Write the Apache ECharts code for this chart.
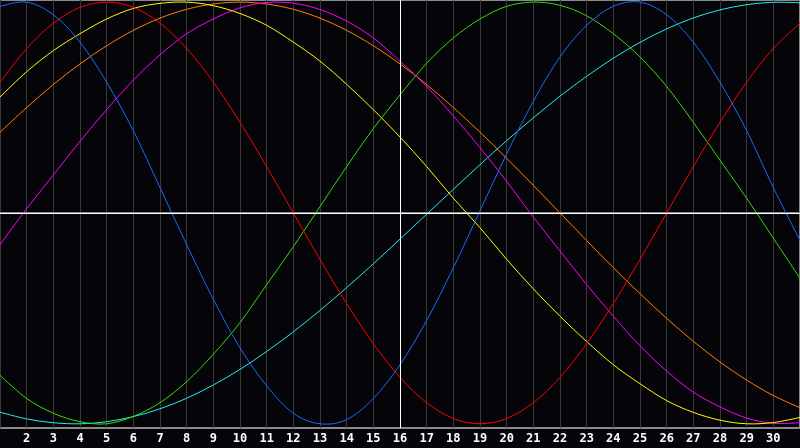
<!DOCTYPE html>
<html>
<head>
<meta charset="utf-8">
<script src="https://cdn.jsdelivr.net/npm/echarts@6/dist/echarts.min.js"></script>
<style>
html, body { margin: 0; padding: 0; background: #050408; }
#chart { width: 800px; height: 448px; }
</style>
</head>
<body>
<div id="chart"></div>
<script>
var days = [1, 2, 3, 4, 5, 6, 7, 8, 9, 10, 11, 12, 13, 14, 15, 16,
    17, 18, 19, 20, 21, 22, 23, 24, 25, 26, 27, 28, 29, 30, 31]

var physical = [98, 100, 94, 81, 62, 39, 12, -15, -41, -64, -82, -95, -100, -98, -88, -72,
    -51, -26, 1, 28, 53, 74, 89, 98, 100, 94, 81, 62, 39, 12, -13]
var emotional = [62, 78, 90, 97.5, 100, 97.5, 90, 78, 62, 43, 22, 0, -22, -43, -62, -78,
    -90, -97.5, -100, -97.5, -90, -78, -62, -43, -22, 0, 22, 43, 62, 78, 90]
var intellectual = [-77, -88, -95, -99, -100, -96.5, -90, -80, -67, -52, -34, -16, 3, 22, 40, 56,
    71, 83, 92, 98, 100, 98.5, 93.5, 85, 74, 60, 43, 25, 7, -12, -31]
var aesthetic = [55, 67, 77, 85, 92, 97, 99.4, 100, 98.3, 94.6, 89, 81, 72, 61, 49, 36,
    22, 7, -7, -22, -36, -49, -61, -72, -81, -89, -94.6, -98.3, -100, -99.4, -97]
var awareness = [38.3, 50, 60.9, 70.7, 79.3, 86.6, 92.4, 96.6, 99.1, 100, 99.1, 96.6, 92.4, 86.6, 79.3, 70.7,
    60.9, 50, 38.3, 25.9, 13.1, 0, -13.1, -25.9, -38.3, -50, -60.9, -70.7, -79.3, -86.6, -92.4]
var intuitive = [-15, 2, 18, 34, 49, 63, 75, 85, 92, 97.3, 99.8, 99.5, 96.5, 91, 83, 72,
    60, 46, 31, 15, -2, -18, -34, -49, -63, -75, -85, -92, -97.3, -99.8, -99.5]
var spiritual = [-94.5, -97.7, -99.5, -100, -99, -96.6, -92.9, -87.9, -81.6, -74.2, -65.7, -56.4, -46.2, -35.4, -24.1, -12.4,
    -0.6, 11.2, 22.9, 34.3, 45.1, 55.4, 64.8, 73.4, 80.9, 87.3, 92.5, 96.3, 98.8, 99.9, 99.7]

var todayMark = 16

function pairs(values) {
    return days.map(function (d, i) { return [d, values[i]] })
}

// one bezier segment per day, control points from the neighbours (catmull-rom)
function curve(name, values, color) {
    var last = values.length - 1
    return {
        name: name,
        type: 'custom',
        data: pairs(values),
        encode: { x: 0, y: 1 },
        silent: true,
        clip: true,
        z: 3,
        renderItem: function (params, api) {
            var i = params.dataIndex
            if (i >= last) return null
            var p0 = api.coord([days[Math.max(i - 1, 0)], values[Math.max(i - 1, 0)]])
            var p1 = api.coord([days[i], values[i]])
            var p2 = api.coord([days[i + 1], values[i + 1]])
            var p3 = api.coord([days[Math.min(i + 2, last)], values[Math.min(i + 2, last)]])
            return {
                type: 'bezierCurve',
                shape: {
                    x1: p1[0], y1: p1[1],
                    x2: p2[0], y2: p2[1],
                    cpx1: p1[0] + (p2[0] - p0[0]) / 6,
                    cpy1: p1[1] + (p2[1] - p0[1]) / 6,
                    cpx2: p2[0] - (p3[0] - p1[0]) / 6,
                    cpy2: p2[1] - (p3[1] - p1[1]) / 6
                },
                style: { stroke: color, fill: null, lineWidth: 1 }
            }
        }
    }
}

var series = [
    curve('spiritual', spiritual, '#22eeee'),
    curve('awareness', awareness, '#ff8000'),
    curve('intuitive', intuitive, '#ff00ff'),
    curve('aesthetic', aesthetic, '#ffff00'),
    curve('intellectual', intellectual, '#33dd00'),
    curve('emotional', emotional, '#ff0000'),
    curve('physical', physical, '#1a6cff')
]

// crosshair: today and the zero line
series.push({
    name: 'axes',
    type: 'line',
    data: [],
    silent: true,
    markLine: {
        silent: true,
        symbol: 'none',
        label: { show: false },
        lineStyle: { color: '#ffffff', width: 1, type: 'solid' },
        data: [{ xAxis: todayMark }, { yAxis: 0 }],
        animation: false
    }
})

var chart = echarts.init(document.getElementById('chart'))
chart.setOption({
    backgroundColor: '#050408',
    animation: false,
    grid: {
        left: 0,
        right: 0,
        top: 0,
        bottom: 20,
        show: true,
        backgroundColor: '#050408',
        borderColor: '#8a8a8a',
        borderWidth: 2
    },
    xAxis: {
        type: 'value',
        min: 1,
        max: 31,
        interval: 1,
        axisLine: { show: true, lineStyle: { color: '#8a8a8a', width: 2 } },
        axisTick: { show: false },
        splitLine: { show: true, lineStyle: { color: '#383838', width: 1 } },
        axisLabel: {
            color: '#ffffff',
            fontFamily: 'DejaVu Sans Mono',
            fontWeight: 'bold',
            fontSize: 12,
            margin: 5,
            showMinLabel: false,
            showMaxLabel: false
        }
    },
    yAxis: {
        type: 'value',
        min: -102,
        max: 101,
        axisLine: { show: false },
        axisTick: { show: false },
        axisLabel: { show: false },
        splitLine: { show: false }
    },
    series: series
})
</script>
</body>
</html>
